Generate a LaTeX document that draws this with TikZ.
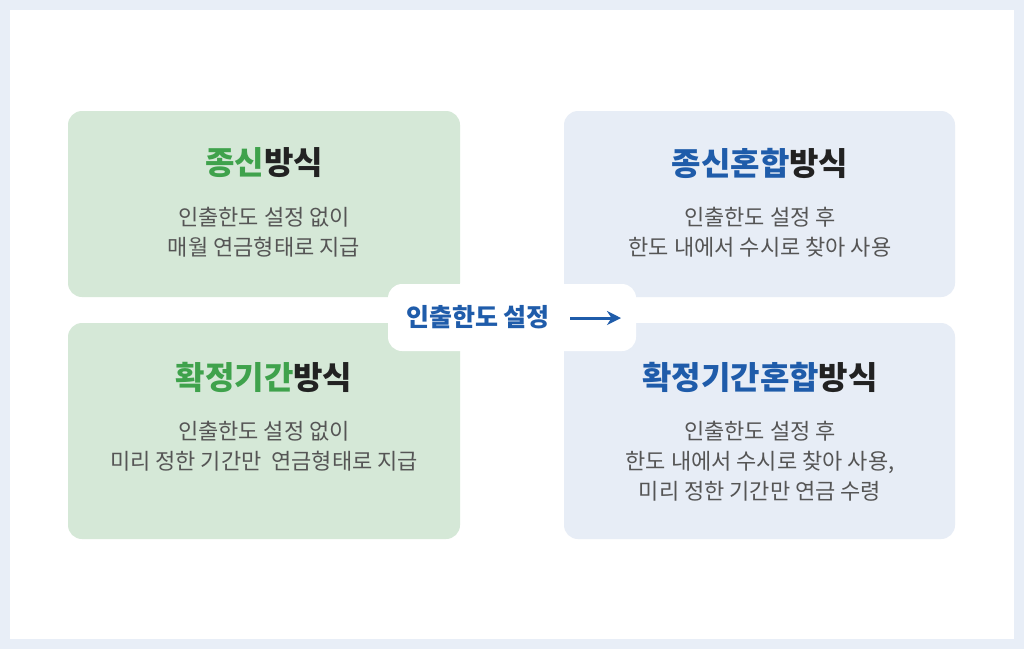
\documentclass[tikz,border=0pt]{standalone}
\usepackage{fontspec}
\usetikzlibrary{arrows.meta}
\setmainfont{Noto Sans CJK KR}
\definecolor{bgout}{HTML}{E8EEF7}
\definecolor{gbox}{HTML}{D5E8D7}
\definecolor{bbox}{HTML}{E7EDF6}
\definecolor{gtxt}{HTML}{3FA24C}
\definecolor{btxt}{HTML}{1F5CAA}
\definecolor{dtxt}{HTML}{222222}
\definecolor{body}{HTML}{555555}
\tikzset{
 card/.style={rounded corners=14pt,draw=none},
 ttl/.style={font=\fontsize{32}{36}\selectfont\bfseries,text=dtxt},
 bdy/.style={font=\fontsize{22}{30}\selectfont,text=body,align=center},
}
\begin{document}
\begin{tikzpicture}[x=1pt,y=-1pt]
\fill[bgout] (0,0) rectangle (1024,649);
\useasboundingbox (0,0) rectangle (1024,649);
\fill[white] (10,10) rectangle (1014,639);
\fill[card,gbox] (68,111) rectangle (460,297);
\fill[card,gbox] (68,323) rectangle (460,539);
\fill[card,bbox] (564,111) rectangle (955,297);
\fill[card,bbox] (564,323) rectangle (955,539);
\node[ttl] (t1) at (264,163) {\textcolor{gtxt}{종신}방식};
\node[bdy] (b1) at (264,232) {인출한도 설정 없이\\매월 연금형태로 지급};
\node[ttl] (t2) at (264,377) {\textcolor{gtxt}{확정기간}방식};
\node[bdy] (b2) at (264,446) {인출한도 설정 없이\\미리 정한 기간만\ \ 연금형태로 지급};
\node[ttl] (t3) at (760,163) {\textcolor{btxt}{종신혼합}방식};
\node[bdy] (b3) at (760,232) {인출한도 설정 후\\한도 내에서 수시로 찾아 사용};
\node[ttl] (t4) at (760,377) {\textcolor{btxt}{확정기간혼합}방식};
\node[bdy] (b4) at (760,461) {인출한도 설정 후\\한도 내에서 수시로 찾아 사용,\\미리 정한 기간만 연금 수령};
\fill[white,rounded corners=14pt] (388,284) rectangle (636,351);
\node[font=\fontsize{25}{28}\selectfont\bfseries,text=btxt] (c) at (478,317) {인출한도 설정};
\coordinate (a1) at (570,318);
\coordinate (a2) at (621,318);
\draw[btxt,line width=3pt,-{Stealth[length=14pt,width=14pt]}] (a1) -- (a2);
\end{tikzpicture}
\end{document}
